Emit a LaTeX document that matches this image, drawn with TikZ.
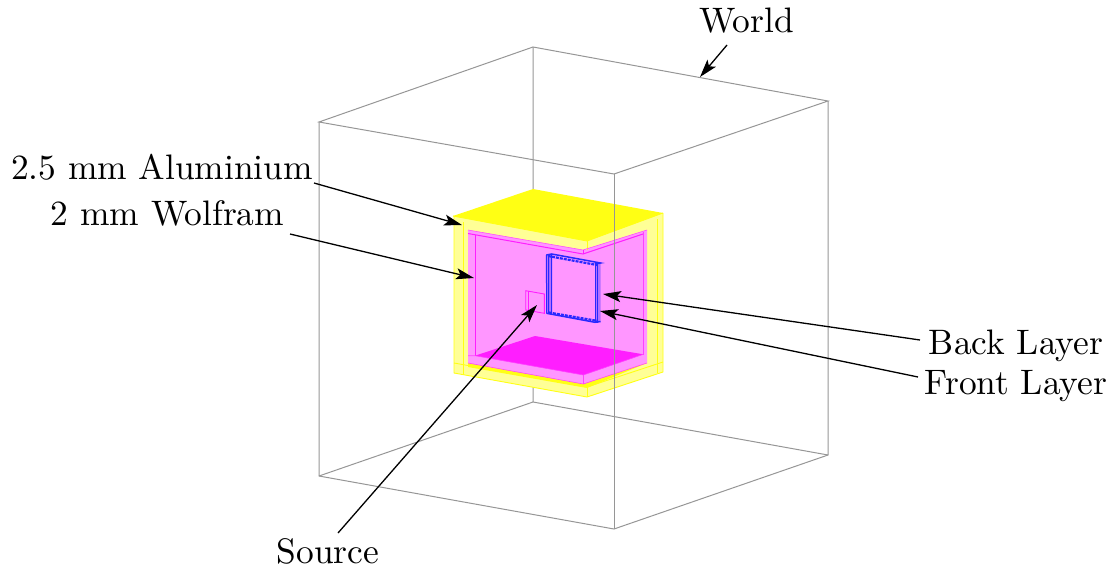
\documentclass[tikz,border=0pt]{standalone}
\usetikzlibrary{arrows.meta}
\definecolor{ylw}{RGB}{255,255,20}
\definecolor{lylw}{RGB}{255,255,150}
\definecolor{pnk}{RGB}{255,150,255}
\definecolor{mag}{RGB}{255,30,255}
\definecolor{wgray}{RGB}{150,150,150}
\definecolor{blu}{RGB}{40,40,255}
\tikzset{
 world/.style={draw=wgray,line width=1pt},
 ysolid/.style={draw=ylw,line width=.9pt},
 msolid/.style={draw=mag,line width=1pt},
 label/.style={scale=3.54,inner sep=0pt,anchor=base},
 arr/.style={draw=black,line width=1.3pt,-{Stealth[length=18pt,width=11pt,inset=4pt]}},
}
\begin{document}
\begin{tikzpicture}[x=1pt,y=-1pt]
\useasboundingbox (0,0) rectangle (1113,570);
% world back edges
\draw[world] (533,47)--(533,402) (533,402)--(319,476) (533,402)--(828,455);
% outer yellow light body
\fill[lylw] (454,216)--(587,241)--(663,213)--(663,372)--(587,397)--(454,373)--cycle;
% pink interior
\fill[pnk] (468,230)--(583,250)--(647,230)--(647,363)--(583,384)--(468,363)--cycle;
% bright yellow band under pink
\fill[ylw] (468,363)--(583,384)--(647,363)--(587,388)--(468,367)--cycle;
% top face
\fill[ylw] (453,216)--(533,189)--(663,213)--(587,241)--cycle;
% top strip
\draw[ysolid] (453,216)--(587,241)--(663,213);
\draw[ysolid] (587,241)--(587,250);
% yellow frame lines
\draw[ysolid] (454,216)--(454,373)--(587,397)--(663,372)--(663,213);
\draw[ysolid] (463,222)--(463,375);
\draw[ysolid] (657,219)--(657,373);
\draw[ysolid] (587,387)--(587,397);
\draw[ysolid] (454,363)--(587,387)--(663,362);
% pink walls
\draw[mag!60!pnk,line width=.6pt] (468,230)--(583,250)--(647,230);
\draw[msolid] (468,233.5)--(583,254)--(643,234);
\draw[msolid,line width=.6pt] (583,250)--(583,254);
\draw[msolid] (475,235)--(475,356);
\draw[mag!70!pnk,line width=.6pt] (643,232)--(643,355);
% floor
\fill[mag] (475,355.7)--(535,336)--(643.3,354.3)--(583.3,375)--cycle;
\draw[mag!70!pnk,line width=.6pt] (468,355.7)--(475,355.7)--(583.3,375)--(643.3,354.3);
\draw[mag!70!pnk,line width=.6pt] (468,363)--(583.3,384)--(647,363);
\draw[mag!70!pnk,line width=.6pt] (583.3,375)--(583.3,384);
% source
\draw[msolid,line width=.9pt] (525.7,290.7)--(544.3,294)--(544.3,313.3)--(525.7,310)--cycle;
\draw[msolid,line width=.7pt] (528.3,291)--(528.3,310.5);
% detector
\fill[blu!35!pnk] (546,255)--(551.7,254)--(551.7,314.5)--(546.7,313.5)--cycle;
\fill[blu!35!pnk] (595,263)--(600.7,263.3)--(600.7,322)--(595,322.3)--cycle;
\draw[blu,line width=1pt] (546.3,255)--(546.7,313.5) (548.6,255)--(548.6,314) (551.7,254)--(551.7,314.5);
\draw[blu,line width=1pt] (595,263)--(595,322) (597.5,263)--(597.5,322.5);
\draw[blu,line width=1.5pt] (546.3,255)--(551.7,254)--(600.5,263)--(595,264);
\draw[blu,line width=2.2pt,dash pattern=on 3pt off 1pt] (548,256)--(597,265);
\draw[blu,line width=1.5pt] (546.7,313.3)--(595,322.3)--(600.5,321.5);
\draw[blu,line width=2.2pt,dash pattern=on 3pt off 1pt] (549,312.5)--(598,321);
% world front edges (on top of the body)
\draw[world] (533,47)--(319,122)--(614,174)--(828,101)--cycle;
\draw[world] (319,122)--(319,476)--(614,529)--(828,455)--(828,101);
\draw[world] (614,174)--(614,529);
% labels
\node[label] (world) at (746.5,32) {World};
\node[label] (alu) at (162,179) {2.5 mm Aluminium};
\node[label] (wolf) at (167.5,225) {2 mm Wolfram};
\node[label] (back) at (1016,354) {Back Layer};
\node[label] (front) at (1016,394) {Front Layer};
\node[label] (source) at (328,563) {Source};
% connector ends
\coordinate (worldS) at (727,45);
\coordinate (worldT) at (700,77);
\coordinate (aluS) at (314,183);
\coordinate (aluT) at (462,225);
\coordinate (wolfS) at (290,234);
\coordinate (wolfT) at (474,278);
\coordinate (backS) at (920,340);
\coordinate (backT) at (603,294);
\coordinate (frontS) at (918,377);
\coordinate (frontT) at (600,311);
\coordinate (sourceS) at (338,533);
\coordinate (sourceT) at (537,305);
\draw[arr] (worldS)--(worldT);
\draw[arr] (aluS)--(aluT);
\draw[arr] (wolfS)--(wolfT);
\draw[arr] (backS)--(backT);
\draw[arr] (frontS)--(frontT);
\draw[arr] (sourceS)--(sourceT);
\end{tikzpicture}
\end{document}
